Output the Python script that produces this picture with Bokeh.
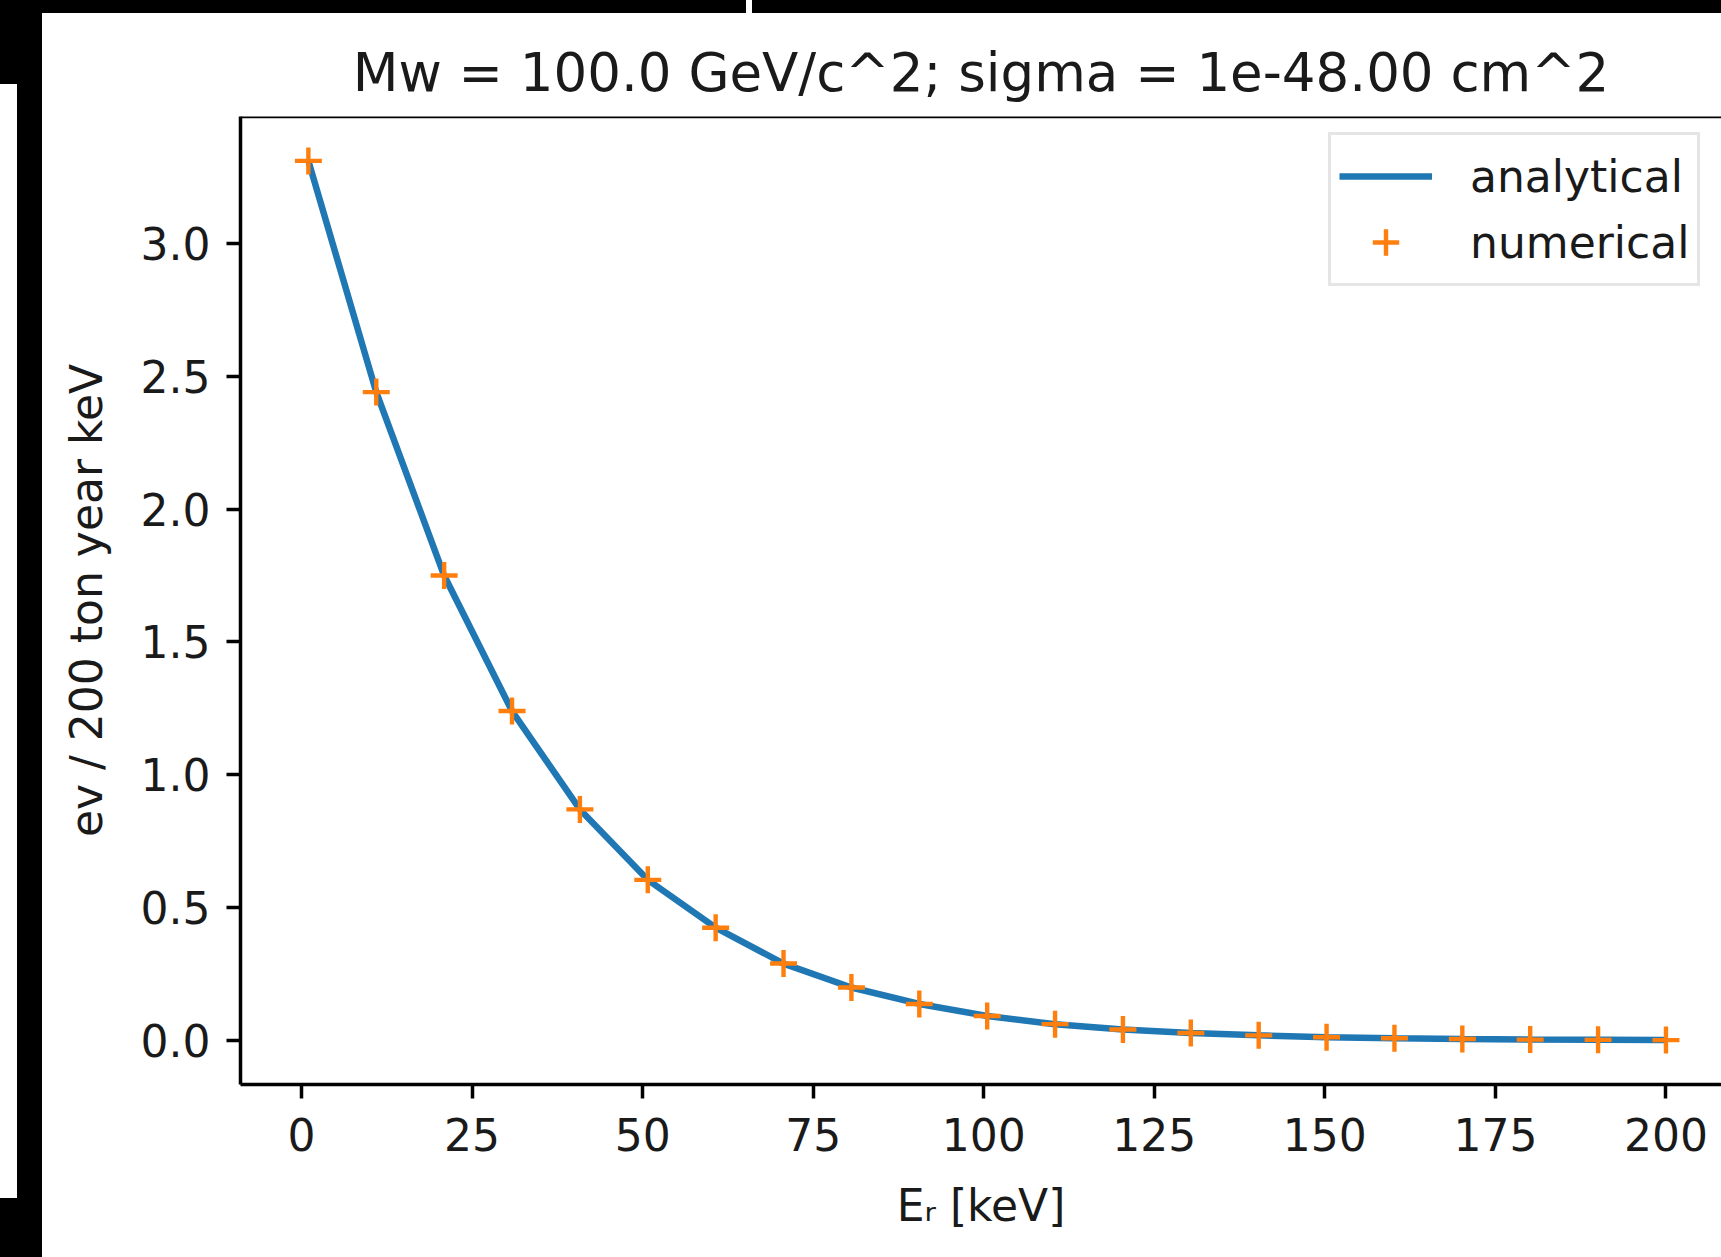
from bokeh.plotting import figure
from bokeh.models import Range1d, FixedTicker, NumeralTickFormatter, Span, Spacer, Legend
from bokeh.layouts import row, column
from bokeh.embed import file_html
from bokeh.resources import INLINE

# ---- data ----
energy_kev = [1.0, 10.95, 20.9, 30.85, 40.8, 50.75, 60.7, 70.65, 80.6, 90.55, 100.5,
              110.45, 120.4, 130.35, 140.3, 150.25, 160.2, 170.15, 180.1, 190.05, 200.0]
rate_analytical = [3.31, 2.44, 1.75, 1.24, 0.87, 0.605, 0.425, 0.29, 0.20, 0.138, 0.093,
                   0.062, 0.042, 0.029, 0.020, 0.013, 0.009, 0.006, 0.004, 0.003, 0.002]
rate_numerical = [3.31, 2.44, 1.75, 1.24, 0.87, 0.605, 0.425, 0.29, 0.20, 0.138, 0.093,
                  0.062, 0.042, 0.029, 0.020, 0.013, 0.009, 0.006, 0.004, 0.003, 0.002]
x_ticks = [0, 25, 50, 75, 100, 125, 150, 175, 200]
y_ticks = [0.0, 0.5, 1.0, 1.5, 2.0, 2.5, 3.0]
title_text = "Mw = 100.0 GeV/c^2; sigma = 1e-48.00 cm^2"
x_label = "E\u1d63 [keV]"
y_label = "ev / 200 ton year keV"

FONT = "DejaVu Sans"
TXT = "#1a1a1a"

p = figure(width=1679, height=1244, output_backend="svg", toolbar_location=None,
           x_range=Range1d(-8.95, 208.14), y_range=Range1d(-0.165, 3.477),
           min_border_left=198, min_border_right=0, min_border_top=103, min_border_bottom=173,
           background_fill_color="white", border_fill_color="white")
p.outline_line_color = None
p.grid.visible = False

p.title.text = title_text
p.title.text_font = FONT
p.title.text_font_size = "53px"
p.title.text_font_style = "normal"
p.title.text_color = TXT
p.title.align = "center"
p.title.standoff = 28

r_line = p.line(energy_kev, rate_analytical, line_color="#1f77b4", line_width=6.5)
r_pts = p.scatter(energy_kev, rate_numerical, marker="cross", size=27,
                  line_color="#ff7f0e", line_width=4.4)

for ax in (p.xaxis[0], p.yaxis[0]):
    ax.axis_line_width = 3.5
    ax.axis_line_color = "black"
    ax.major_tick_line_width = 3.5
    ax.major_tick_line_color = "black"
    ax.major_tick_out = 14
    ax.major_tick_in = 0
    ax.minor_tick_line_color = None
    ax.major_label_text_font = FONT
    ax.major_label_text_font_size = "44px"
    ax.major_label_text_color = TXT
    ax.axis_label_text_font = FONT
    ax.axis_label_text_font_size = "44px"
    ax.axis_label_text_font_style = "normal"
    ax.axis_label_text_color = TXT

p.xaxis.ticker = FixedTicker(ticks=x_ticks)
p.yaxis.ticker = FixedTicker(ticks=y_ticks)
p.yaxis.formatter = NumeralTickFormatter(format="0.0")
p.xaxis.axis_label = x_label
p.yaxis.axis_label = y_label
p.xaxis.major_label_standoff = 19
p.yaxis.major_label_standoff = 16
p.xaxis.axis_label_standoff = 26
p.yaxis.axis_label_standoff = 26

p.add_layout(Span(location=3.477, dimension="width", line_color="black", line_width=3.5))

legend = Legend(items=[("analytical", [r_line]), ("numerical", [r_pts])],
                location=(1088, 798))
legend.label_text_font = FONT
legend.label_text_font_size = "44px"
legend.label_text_color = TXT
legend.glyph_width = 93
legend.glyph_height = 66
legend.label_height = 66
legend.label_standoff = 38
legend.spacing = 0
legend.padding = 8
legend.margin = 0
legend.border_line_color = "#cccccc"
legend.border_line_width = 3
legend.background_fill_color = "white"
legend.background_fill_alpha = 0.8
p.add_layout(legend)

BLK = {"background-color": "black"}
WHT = {"background-color": "white"}

left_strip = column(
    Spacer(width=17, height=84, styles=BLK),
    Spacer(width=17, height=1114, styles=WHT),
    Spacer(width=17, height=59, styles=BLK),
)
top_band = row(
    Spacer(width=704, height=13, styles=BLK),
    Spacer(width=6, height=13, styles=WHT),
    Spacer(width=969, height=13, styles=BLK),
)
page = row(left_strip, Spacer(width=25, height=1257, styles=BLK), column(top_band, p))

open("out.html", "w").write(file_html(page, INLINE))
